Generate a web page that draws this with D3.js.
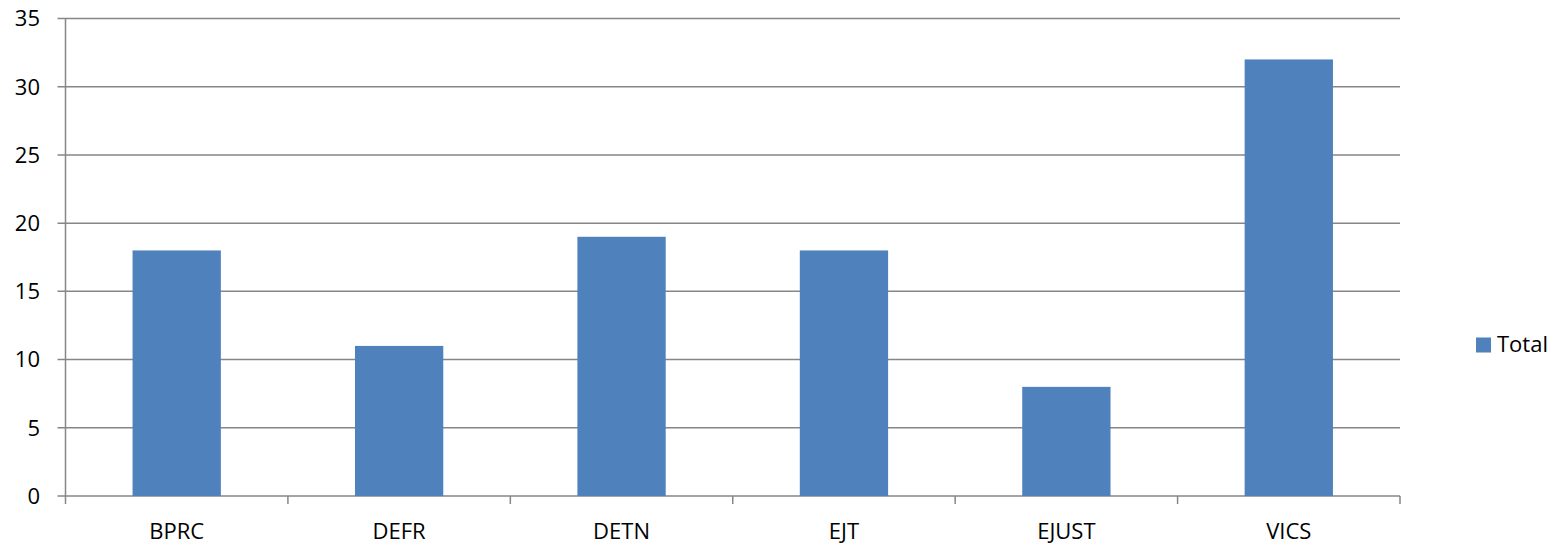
<!DOCTYPE html>
<html lang="en">
<head>
<meta charset="UTF-8">
<script src="https://d3js.org/d3.v7.min.js"></script>
<style>
  body { margin: 0; background: #fff; }
  text { font-family: "Open Sans", "Noto Sans", sans-serif; fill: #000; }
</style>
</head>
<body>
<div id="chart"></div>
<script>
// data
const categories = ["BPRC", "DEFR", "DETN", "EJT", "EJUST", "VICS"];
const totals = [18, 11, 19, 18, 8, 32];
const yTicks = [0, 5, 10, 15, 20, 25, 30, 35];
const seriesName = "Total";

const W = 1567, H = 545;
const plotLeft = 65.5, plotRight = 1400, plotTop = 18.5, plotBottom = 496;
const gridCol = "#868686", barCol = "#4F81BD";

const svg = d3.select("#chart").append("svg")
  .attr("width", W).attr("height", H);

const x = d3.scaleBand().domain(categories).range([plotLeft, plotRight]).paddingInner(0).paddingOuter(0);
const y = d3.scaleLinear().domain([0, 35]).range([plotBottom, plotTop]);

// horizontal gridlines + y tick marks
svg.selectAll(".grid").data(yTicks).join("line")
  .attr("x1", plotLeft - 8).attr("x2", plotRight)
  .attr("y1", d => y(d)).attr("y2", d => y(d))
  .attr("stroke", gridCol).attr("stroke-width", 1.5);

// y labels
svg.selectAll(".ylab").data(yTicks).join("text")
  .attr("x", 40).attr("y", d => y(d))
  .attr("dy", "0.36em")
  .attr("text-anchor", "end")
  .attr("font-size", 22)
  .text(d => d);

// y axis line
svg.append("line")
  .attr("x1", plotLeft).attr("x2", plotLeft).attr("y1", plotTop).attr("y2", plotBottom + 8)
  .attr("stroke", gridCol).attr("stroke-width", 1.5);

// x tick marks at band edges
const edges = categories.map(c => x(c)).concat([plotRight]);
svg.selectAll(".xt").data(edges.slice(1)).join("line")
  .attr("x1", d => d).attr("x2", d => d)
  .attr("y1", plotBottom).attr("y2", plotBottom + 8)
  .attr("stroke", gridCol).attr("stroke-width", 1.5);

// bars
const barW = x.bandwidth() * 0.397;
svg.selectAll(".bar").data(totals).join("rect")
  .attr("x", (d, i) => x(categories[i]) + (x.bandwidth() - barW) / 2)
  .attr("y", d => y(d))
  .attr("width", barW)
  .attr("height", d => plotBottom - y(d))
  .attr("fill", barCol);

// x labels
svg.selectAll(".xlab").data(categories).join("text")
  .attr("x", d => x(d) + x.bandwidth() / 2)
  .attr("y", 539)
  .attr("text-anchor", "middle")
  .attr("font-size", 22)
  .text(d => d);

// legend
svg.append("rect").attr("x", 1476).attr("y", 337.5).attr("width", 15).attr("height", 15).attr("fill", barCol);
svg.append("text").attr("x", 1497).attr("y", 352).attr("font-size", 22).text(seriesName);
</script>
</body>
</html>
